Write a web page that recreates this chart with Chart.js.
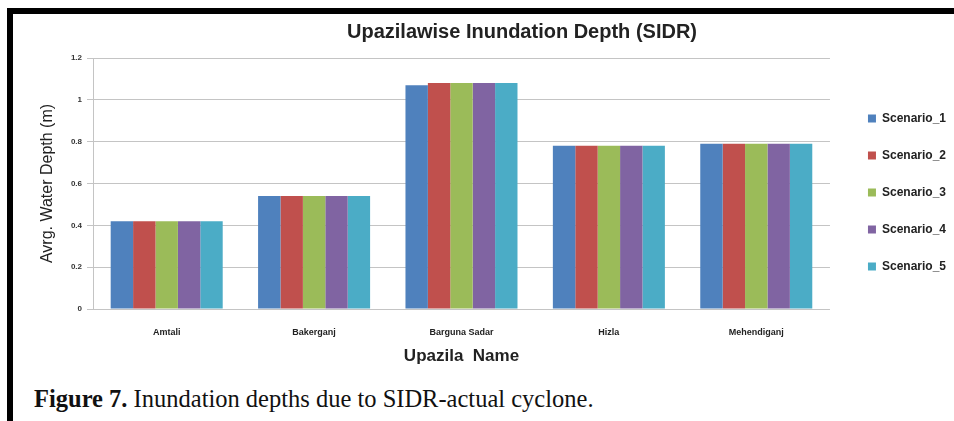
<!DOCTYPE html>
<html>
<head>
<meta charset="utf-8">
<script src="https://cdn.jsdelivr.net/npm/chart.js@4"></script>
<style>
  html, body { margin: 0; padding: 0; background: #fff; overflow: hidden; }
  body { width: 954px; height: 421px; position: relative; }
  #frame { position: absolute; left: 7px; top: 8px; width: 960px; height: 430px;
           border-top: 6px solid #000; border-left: 6px solid #000; }
  #title { position: absolute; left: 250px; width: 544px; top: 20px; text-align: center;
           font: bold 20px "Liberation Sans", Arial, sans-serif; color: #222; }
  #caption { position: absolute; left: 34px; top: 385px; color: #111;
             font: 24.5px "Liberation Serif", "Times New Roman", serif; white-space: nowrap; }
  #chart { position: absolute; left: 13px; top: 14px; }
</style>
</head>
<body>
<div id="frame"></div>
<canvas id="chart" width="960" height="361"></canvas>
<div id="title">Upazilawise Inundation Depth (SIDR)</div>
<div id="caption"><b>Figure 7.</b> Inundation depths due to SIDR-actual cyclone.</div>
<script>
var upazilas = ["Amtali", "Bakerganj", "Barguna Sadar", "Hizla", "Mehendiganj"];
var scenario1 = [0.42, 0.54, 1.07, 0.78, 0.79];
var scenario2 = [0.42, 0.54, 1.08, 0.78, 0.79];
var scenario3 = [0.42, 0.54, 1.08, 0.78, 0.79];
var scenario4 = [0.42, 0.54, 1.08, 0.78, 0.79];
var scenario5 = [0.42, 0.54, 1.08, 0.78, 0.79];
var yTicks = [0, 0.2, 0.4, 0.6, 0.8, 1, 1.2];

var colors = ['#4F81BD', '#C0504D', '#9BBB59', '#8064A2', '#4BACC6'];
var series = [scenario1, scenario2, scenario3, scenario4, scenario5];

// nudge the legend into the spot it has in the original figure
var legendShift = {
    id: 'legendShift',
    beforeDraw: function (chart) {
        var lg = chart.legend;
        lg.left += 13; lg.right += 13;
        lg.top -= 20; lg.bottom -= 20;
    }
};

var ctx = document.getElementById('chart').getContext('2d');

var chart = new Chart(ctx, {
    type: 'bar',
    data: {
        labels: upazilas,
        datasets: series.map(function (s, i) {
            return {
                label: 'Scenario_' + (i + 1),
                data: s,
                backgroundColor: colors[i],
                borderWidth: 0,
                categoryPercentage: 0.76,
                barPercentage: 1
            };
        })
    },
    plugins: [legendShift],
    options: {
        responsive: false,
        animation: false,
        devicePixelRatio: 1,
        layout: { padding: { left: 25, top: 44, right: 30, bottom: 8 } },
        plugins: {
            title: { display: false },
            tooltip: { enabled: false },
            legend: {
                position: 'right',
                labels: {
                    boxWidth: 8,
                    boxHeight: 8,
                    padding: 25,
                    color: '#222',
                    font: { family: 'Liberation Sans', size: 12, weight: 'bold' }
                }
            }
        },
        scales: {
            x: {
                grid: { display: false, drawTicks: false },
                border: { display: false },
                ticks: {
                    padding: 18,
                    color: '#222',
                    font: { family: 'Liberation Sans', size: 9, weight: 'bold' }
                },
                title: {
                    display: true,
                    text: 'Upazila  Name',
                    color: '#222',
                    padding: 0,
                    font: { family: 'Liberation Sans', size: 17, weight: 'bold' }
                },
                afterFit: function (scale) { scale.height = 58; }
            },
            y: {
                min: 0,
                max: 1.2,
                afterBuildTicks: function (scale) {
                    scale.ticks = yTicks.map(function (v) { return { value: v }; });
                },
                grid: { color: '#c4c4c4', tickLength: 6 },
                border: { color: '#c4c4c4' },
                ticks: {
                    padding: 5,
                    color: '#333',
                    font: { family: 'Liberation Sans', size: 8, weight: 'bold' },
                    callback: function (value, index) { return String(yTicks[index]); }
                },
                title: {
                    display: true,
                    text: 'Avrg. Water Depth (m)',
                    color: '#222',
                    padding: 0,
                    font: { family: 'Liberation Sans', size: 16 }
                },
                afterFit: function (scale) { scale.width = 55; }
            }
        }
    }
});
</script>
</body>
</html>
